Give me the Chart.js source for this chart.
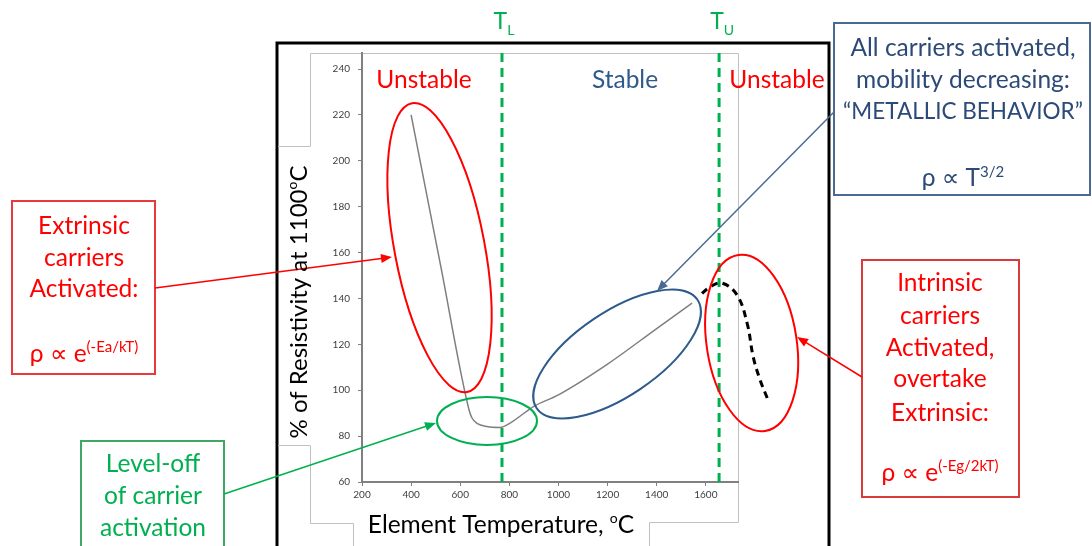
<!DOCTYPE html>
<html>
<head>
<meta charset="utf-8">
<script src="https://cdn.jsdelivr.net/npm/chart.js@4.4.0/dist/chart.umd.min.js"></script>
<style>
    html, body { margin: 0; padding: 0; background: #fff; }
    #wrap { width: 1092px; height: 546px; position: relative; }
</style>
</head>
<body>
<div id="wrap"><canvas id="resChart"></canvas></div>
<script>
// -------------------------    Data    -------------------------

// measured resistivity curve (solid gray)
var tempMeasured = [400, 520, 636, 648, 668, 709, 762, 803, 900, 1000, 1200, 1400, 1544];
var resMeasured  = [220, 154.4, 91.4, 87.9, 85.6, 84.2, 83.8, 85.7, 93, 98, 111.4, 126.9, 138];

// intrinsic roll-over (dashed black), listed from the hot end so the
// part past the axis end is not cut off
var tempIntrinsic = [1850, 1821, 1793, 1768, 1727, 1666, 1617, 1569];
var resIntrinsic  = [96.6, 104.5, 114.5, 129.3, 141.5, 146.7, 145, 140.6];

// stability limits
var tLower = 770;
var tUpper = 1654;

// axis ranges
var xMin = 200, xMax = 1731, xStep = 200;
var yMin = 60, yMax = 247, yStep = 20;

var FONT = "Lato, 'DejaVu Sans', sans-serif";
var FS = 24.5;   // main text size
var SUP = 15;    // superscript size
var RED = '#ff0000';
var GREEN = '#00b050';
var BLUE = '#2f5a8c';
var NAVY = '#2c4a78';


// -------------------------    helperfunctions    -------------------------

function toPoints(xs, ys) {
    return xs.map(function (x, i) { return { x: x, y: ys[i] }; });
}

function vline(x) {
    return [{ x: x, y: yMin }, { x: x, y: yMax }];
}

// parts: [text, size, rise]
function richText(ctx, parts, cx, base, color) {
    var total = 0;
    parts.forEach(function (p) {
        ctx.font = p[1] + 'px ' + FONT;
        total += ctx.measureText(p[0]).width;
    });
    var x = cx - total / 2;
    ctx.fillStyle = color;
    ctx.textAlign = 'left';
    ctx.textBaseline = 'alphabetic';
    parts.forEach(function (p) {
        ctx.font = p[1] + 'px ' + FONT;
        ctx.fillText(p[0], x, base - p[2]);
        x += ctx.measureText(p[0]).width;
    });
}

function textLines(ctx, lines, cx, color) {
    lines.forEach(function (l) {
        if (typeof l[0] === 'string') {
            richText(ctx, [[l[0], l[2] || FS, 0]], cx, l[1], color);
        } else {
            richText(ctx, l[0], cx, l[1], color);
        }
    });
}

function arrow(ctx, x1, y1, x2, y2, color) {
    var ang = Math.atan2(y2 - y1, x2 - x1);
    var len = 11, wid = 4.5;
    ctx.strokeStyle = color;
    ctx.fillStyle = color;
    ctx.lineWidth = 1.5;
    ctx.beginPath();
    ctx.moveTo(x1, y1);
    ctx.lineTo(x2 - Math.cos(ang) * len * 0.8, y2 - Math.sin(ang) * len * 0.8);
    ctx.stroke();
    ctx.beginPath();
    ctx.moveTo(x2, y2);
    ctx.lineTo(x2 - Math.cos(ang) * len - Math.sin(ang) * wid, y2 - Math.sin(ang) * len + Math.cos(ang) * wid);
    ctx.lineTo(x2 - Math.cos(ang) * len + Math.sin(ang) * wid, y2 - Math.sin(ang) * len - Math.cos(ang) * wid);
    ctx.closePath();
    ctx.fill();
}

function box(ctx, x1, y1, x2, y2, color) {
    ctx.fillStyle = '#fff';
    ctx.fillRect(x1, y1, x2 - x1, y2 - y1);
    ctx.strokeStyle = color;
    ctx.lineWidth = 2;
    ctx.strokeRect(x1, y1, x2 - x1, y2 - y1);
}


// -------------------------    Annotations plugin    -------------------------

var annotations = {
    id: 'annotations',
    beforeDraw: function (chart) {
        var ctx = chart.ctx;
        ctx.save();
        // slide frame
        ctx.strokeStyle = '#000';
        ctx.lineWidth = 3;
        ctx.beginPath();
        ctx.moveTo(277, 548); ctx.lineTo(277, 43); ctx.lineTo(829, 43); ctx.lineTo(829, 548);
        ctx.stroke();
        // pasted image border
        ctx.strokeStyle = '#c0c0c0';
        ctx.lineWidth = 1;
        ctx.beginPath();
        ctx.moveTo(278, 146.5); ctx.lineTo(310.5, 146.5); ctx.lineTo(310.5, 53.5); ctx.lineTo(738.5, 53.5);
        ctx.lineTo(738.5, 522.5); ctx.lineTo(649.5, 522.5); ctx.lineTo(649.5, 548);
        ctx.moveTo(278, 445.5); ctx.lineTo(310.5, 445.5); ctx.lineTo(310.5, 523.5); ctx.lineTo(353.5, 523.5);
        ctx.lineTo(353.5, 548);
        ctx.stroke();
        ctx.restore();
    },
    afterDraw: function (chart) {
        var ctx = chart.ctx;
        var sx = chart.scales.x, sy = chart.scales.y;
        ctx.save();

        // regime labels
        textLines(ctx, [['Unstable', 88]], 424, RED);
        textLines(ctx, [['Stable', 88]], 625, BLUE);
        textLines(ctx, [['Unstable', 88]], 777, RED);

        // limit labels
        richText(ctx, [['T', 23, 0], ['L', 14, -6]], sx.getPixelForValue(tLower) + 2, 29, GREEN);
        richText(ctx, [['T', 23, 0], ['U', 14, -6]], sx.getPixelForValue(tUpper) + 3, 29, GREEN);

        // ellipses around regimes
        var ells = [
            [515.7, 162.2, 147, 45, 79.2, RED],
            [709, 86.6, 50, 24, 0, GREEN],
            [1238.7, 115.8, 97, 42, -34, BLUE],
            [1786.6, 120.6, 89, 45, 81.3, RED]
        ];
        ctx.lineWidth = 2;
        ells.forEach(function (e) {
            ctx.strokeStyle = e[5];
            ctx.beginPath();
            ctx.ellipse(sx.getPixelForValue(e[0]), sy.getPixelForValue(e[1]), e[2], e[3], e[4] * Math.PI / 180, 0, Math.PI * 2);
            ctx.stroke();
        });

        // callout boxes
        box(ctx, 834, 23, 1090, 195, '#4b6a92');
        textLines(ctx, [
            ['All carriers activated,', 56],
            ['mobility decreasing:', 88],
            ['\u201cMETALLIC BEHAVIOR\u201d', 119, 22.5],
            [[['\u03c1 \u221d T', FS, 0], ['3/2', SUP, 9]], 186]
        ], 963, NAVY);

        box(ctx, 12, 201, 155, 374, '#e83a3a');
        textLines(ctx, [
            ['Extrinsic', 234],
            ['carriers', 266],
            ['Activated:', 297],
            [[['\u03c1 \u221d e', FS, 0], ['(-Ea/kT)', SUP, 10]], 362]
        ], 84, RED);

        box(ctx, 81, 441, 224, 560, '#3fa864');
        textLines(ctx, [
            ['Level-off', 472],
            ['of carrier', 504],
            ['activation', 536]
        ], 153, GREEN);

        box(ctx, 862, 260, 1019, 497, '#d93a3a');
        textLines(ctx, [
            ['Intrinsic', 291],
            ['carriers', 324],
            ['Activated,', 356],
            ['overtake', 387],
            ['Extrinsic:', 421],
            [[['\u03c1 \u221d e', FS, 0], ['(-Eg/2kT)', SUP, 10]], 481]
        ], 940, RED);

        // arrows
        arrow(ctx, 155, 288, 392, 257, RED);
        arrow(ctx, 224, 494, 436, 423, GREEN);
        arrow(ctx, 834, 112, 657, 291, '#4b6a92');
        arrow(ctx, 862, 377, 797, 337, RED);

        // axis titles
        richText(ctx, [['Element Temperature, ', FS, 0], ['o', 14, 10], ['C', FS, 0]], 501, 533, '#000');
        ctx.translate(307, 302);
        ctx.rotate(-Math.PI / 2);
        richText(ctx, [['% of Resistivity at 1100', 24, 0], ['o', 14, 10], ['C', 24, 0]], 0, 0, '#000');

        ctx.restore();
    }
};


// -------------------------    Chart Setup    -------------------------

var axisStyle = function (step, min, max, pad, fit) {
    return {
        type: 'linear',
        min: min,
        max: max,
        ticks: {
            stepSize: step,
            includeBounds: false,
            autoSkip: false,
            maxRotation: 0,
            padding: pad,
            color: '#404040',
            font: { family: FONT, size: 10 },
            callback: function (v) { return String(v); }
        },
        grid: { drawOnChartArea: false, drawTicks: true, tickLength: 4, color: '#808080', lineWidth: 1 },
        border: { display: true, color: '#808080', width: 2 },
        afterFit: fit
    };
};

var ctx = document.getElementById('resChart').getContext('2d');
var resChart = new Chart(ctx, {
    type: 'scatter',
    data: {
        datasets: [
            {
                label: 'measured',
                data: toPoints(tempMeasured, resMeasured),
                showLine: true,
                borderColor: '#7f7f7f',
                borderWidth: 1.5,
                pointRadius: 0,
                cubicInterpolationMode: 'monotone'
            },
            {
                label: 'intrinsic',
                data: toPoints(tempIntrinsic, resIntrinsic),
                showLine: true,
                borderColor: '#000',
                borderWidth: 3,
                borderDash: [7, 5],
                pointRadius: 0,
                tension: 0.4,
                clip: false
            },
            {
                label: 'TL',
                data: vline(tLower),
                showLine: true,
                borderColor: GREEN,
                borderWidth: 3,
                borderDash: [9, 6],
                pointRadius: 0
            },
            {
                label: 'TU',
                data: vline(tUpper),
                showLine: true,
                borderColor: GREEN,
                borderWidth: 3,
                borderDash: [9, 6],
                pointRadius: 0
            }
        ]
    },
    options: {
        responsive: true,
        maintainAspectRatio: false,
        animation: false,
        layout: { padding: { left: 322, right: 354, top: 53, bottom: 34 } },
        plugins: { legend: { display: false }, tooltip: { enabled: false } },
        scales: {
            x: axisStyle(xStep, xMin, xMax, 3, function (s) { s.height = 30; }),
            y: axisStyle(yStep, yMin, yMax, 8, function (s) { s.width = 40; })
        }
    },
    plugins: [annotations]
});
</script>
</body>
</html>
